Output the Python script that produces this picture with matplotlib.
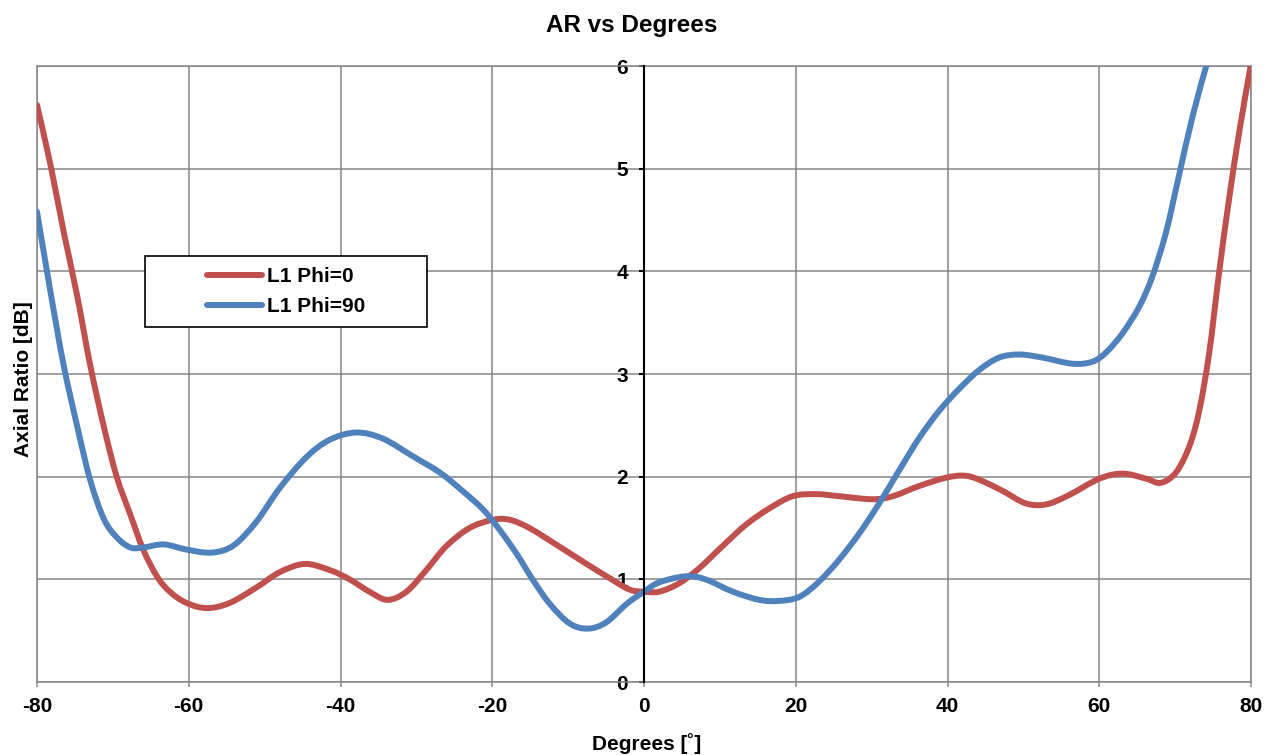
import matplotlib
matplotlib.use('Agg')
from matplotlib import pyplot as plt
from matplotlib.patches import Rectangle, PathPatch
from matplotlib.path import Path
from matplotlib.lines import Line2D

plt.rcParams['font.family'] = ['Liberation Sans', 'DejaVu Sans']
plt.rcParams['font.weight'] = 'bold'
plt.rcParams['axes.unicode_minus'] = False

# values
deg_phi0 = [-80, -78.2, -76.5, -74.7, -73, -71.2, -69.5, -67.7, -66, -64.2, -62.5, -60.3,
            -57.6, -54.6, -51.1, -48, -44.7, -41.4, -38.8, -36.2, -33.8, -31.3, -28.7,
            -26.1, -23, -19.9, -17.7, -15.1, -11.6, -8, -4.5, -1.9, 0, 2, 4.6, 7.3, 10.3,
            13.4, 16.5, 19.6, 22.7, 25.7, 30.1, 32.8, 36.3, 39.8, 42.2, 44.2, 47.3, 50.3,
            53, 56, 60, 63.1, 66.2, 68.1, 70.1, 71.9, 73.2, 74.5, 75.8, 77.1, 78.5, 80]
ar_phi0 = [5.62, 5.03, 4.39, 3.76, 3.09, 2.49, 2.00, 1.63, 1.29, 1.03, 0.88, 0.77,
           0.72, 0.77, 0.92, 1.07, 1.15, 1.09, 1.00, 0.88, 0.80, 0.88, 1.09,
           1.32, 1.50, 1.58, 1.58, 1.50, 1.34, 1.17, 1.01, 0.90, 0.88, 0.88, 0.96, 1.11, 1.32,
           1.53, 1.69, 1.81, 1.83, 1.81, 1.78, 1.81, 1.91, 1.99, 2.01, 1.97, 1.86, 1.74,
           1.73, 1.82, 1.98, 2.03, 1.98, 1.94, 2.04, 2.30, 2.65, 3.21, 3.99, 4.70, 5.38, 6.02]

deg_phi90 = [-80, -78.2, -76.5, -74.7, -73, -71.2, -69.5, -67.7, -66, -63.3, -60.3, -57,
             -54.1, -51.1, -48, -44.5, -41.4, -37.9, -34.4, -30.5, -26.9, -23.9, -21.2,
             -19, -16.8, -14.6, -12.4, -9.8, -7.4, -5, -2.3, 0, 2, 5.5, 8.1, 11.7, 15.2,
             17.8, 20.5, 23.1, 25.7, 28.4, 31, 33.7, 36.3, 39, 41.6, 44.2, 46.8, 49.5,
             52.5, 56.5, 59.1, 60.9, 63.1, 65.3, 67, 68.8, 70.5, 72.3, 74.1]
ar_phi90 = [4.58, 3.79, 3.09, 2.49, 1.97, 1.59, 1.41, 1.31, 1.31, 1.34, 1.29, 1.26,
            1.33, 1.56, 1.89, 2.19, 2.36, 2.43, 2.37, 2.20, 2.04, 1.86, 1.68,
            1.48, 1.25, 0.99, 0.76, 0.57, 0.52, 0.58, 0.76, 0.88, 0.97, 1.03, 1.00, 0.88, 0.80,
            0.79, 0.83, 0.98, 1.19, 1.45, 1.74, 2.07, 2.38, 2.65, 2.86, 3.04, 3.16, 3.19,
            3.16, 3.10, 3.12, 3.21, 3.40, 3.66, 3.95, 4.38, 4.93, 5.51, 6.0]

labels = ['L1 Phi=0', 'L1 Phi=90']
colors = ['#C0504D', '#4F81BD']
x_ticks = [-80, -60, -40, -20, 0, 20, 40, 60, 80]
y_ticks = [0, 1, 2, 3, 4, 5, 6]

grid_col = '#868686'
W, H = 1276, 755
LW = 4.3


def smooth_path(xs, ys):
    # Excel-style smoothed line: bezier segments through every data point
    pts = list(zip(xs, ys))
    verts = [pts[0]]
    codes = [Path.MOVETO]
    n = len(pts)
    for i in range(n - 1):
        p0 = pts[max(i - 1, 0)]
        p1 = pts[i]
        p2 = pts[i + 1]
        p3 = pts[min(i + 2, n - 1)]
        c1 = (p1[0] + (p2[0] - p0[0]) / 6, p1[1] + (p2[1] - p0[1]) / 6)
        c2 = (p2[0] - (p3[0] - p1[0]) / 6, p2[1] - (p3[1] - p1[1]) / 6)
        verts += [c1, c2, p2]
        codes += [Path.CURVE4] * 3
    return Path(verts, codes)


fig = plt.figure(figsize=(W / 100, H / 100), dpi=100)
ax = fig.add_axes([37 / W, 73 / H, 1214 / W, 616 / H])

for xs, ys, c in [(deg_phi0, ar_phi0, colors[0]), (deg_phi90, ar_phi90, colors[1])]:
    ax.add_patch(PathPatch(smooth_path(xs, ys), fill=False, edgecolor=c, lw=LW,
                           capstyle='round', joinstyle='round', zorder=3))

ax.set_xlim(-80, 80)
ax.set_ylim(0, 6)
ax.set_xticks(x_ticks)
ax.set_yticks(y_ticks)
ax.grid(True, color=grid_col, lw=1.1)
ax.set_axisbelow(True)

# plot area border
for xv in (-80, 80):
    ax.axvline(xv, color=grid_col, lw=1.1, clip_on=False, zorder=1)
ax.axhline(6, color=grid_col, lw=1.1, clip_on=False, zorder=1)

ax.spines['left'].set_position(('data', 0))
ax.spines['left'].set_color('black')
ax.spines['left'].set_linewidth(1.5)
ax.spines['left'].set_zorder(4)
ax.spines['bottom'].set_color(grid_col)
ax.spines['bottom'].set_linewidth(1.1)
ax.spines['top'].set_visible(False)
ax.spines['right'].set_visible(False)

ax.tick_params(axis='y', direction='out', length=3.6, width=1.5, color='black',
               pad=8, labelsize=15)
ax.tick_params(axis='x', direction='out', length=3.6, width=1.1, color=grid_col,
               pad=7.5, labelsize=15)
for t in ax.get_xticklabels() + ax.get_yticklabels():
    t.set_fontweight('bold')

fig.text(631.7 / W, 1 - 31.7 / H, 'AR vs Degrees', ha='center', va='baseline',
         fontsize=17.5, fontweight='bold')
fig.text(646.5 / W, 1 - 750 / H, 'Degrees [˚]', ha='center', va='baseline',
         fontsize=15, fontweight='bold')
fig.text(24 / W, 1 - 379 / H, 'Axial Ratio [dB]', ha='center', va='center',
         rotation=90, fontsize=15, fontweight='bold')

# legend box
ax.add_patch(Rectangle((0.08896, 0.5763), 0.2325, 0.1153, transform=ax.transAxes,
                       facecolor='white', edgecolor='black', lw=1.2, zorder=5))
handles = [Line2D([], [], color=c, lw=LW, solid_capstyle='round') for c in colors]
leg = ax.legend(handles, labels, loc='center', bbox_to_anchor=(0.205, 0.6336),
                bbox_transform=ax.transAxes, frameon=False,
                prop={'size': 15, 'weight': 'bold'},
                handlelength=2.64, handletextpad=0.24, labelspacing=0.55)
leg.set_zorder(6)

fig.savefig('out.png', dpi=100)
